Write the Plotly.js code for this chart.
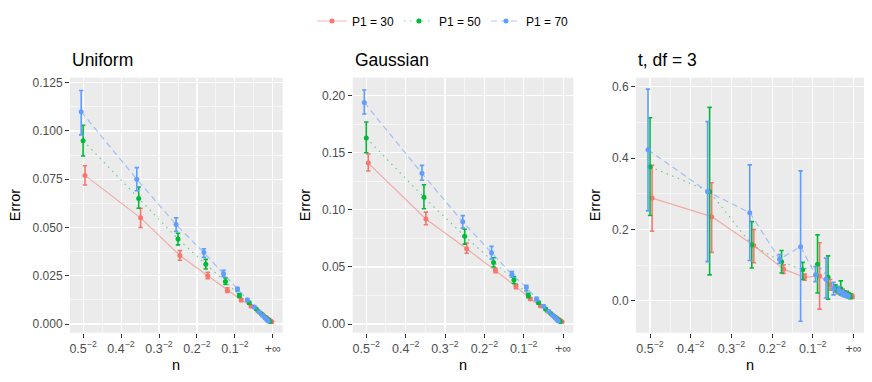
<!DOCTYPE html>
<html>
<head>
<meta charset="utf-8">
<script src="https://cdn.plot.ly/plotly-3.0.1.min.js"></script>
<style>html,body{margin:0;padding:0;background:#fff;}#chart{width:872px;height:382px;}</style>
</head>
<body>
<div id="chart"></div>
<script>
// ---- data ----
const nValues = [4, 8, 16, 32, 64, 128, 256, 512, 1024, 2048, 4096, 8192, 16384];
const seriesNames = ["P1 = 30", "P1 = 50", "P1 = 70"];
const panelTitles = ["Uniform", "Gaussian", "t, df = 3"];
const xTickVals = [0.5, 0.4, 0.3, 0.2, 0.1, 0];
const xTickText = ["0.5<sup>\u22122</sup>", "0.4<sup>\u22122</sup>", "0.3<sup>\u22122</sup>", "0.2<sup>\u22122</sup>", "0.1<sup>\u22122</sup>", "+\u221e"];

// Uniform
const uniP30 = [0.077, 0.055, 0.0355, 0.025, 0.0175, 0.0124, 0.0092, 0.0068, 0.0048, 0.0034, 0.0024, 0.0017, 0.0012];
const uniP30lo = [0.072, 0.050, 0.033, 0.0235, 0.0163, 0.0117, 0.0087, 0.0064, 0.0045, 0.0032, 0.0023, 0.0016, 0.0011];
const uniP30hi = [0.082, 0.060, 0.038, 0.0268, 0.0188, 0.0131, 0.0097, 0.0072, 0.0051, 0.0036, 0.0025, 0.0018, 0.0013];
const uniP50 = [0.095, 0.065, 0.044, 0.031, 0.022, 0.0148, 0.011, 0.0078, 0.0055, 0.0038, 0.0027, 0.0019, 0.0013];
const uniP50lo = [0.087, 0.060, 0.041, 0.0285, 0.0205, 0.0138, 0.0103, 0.0073, 0.0052, 0.0036, 0.0025, 0.0018, 0.0012];
const uniP50hi = [0.103, 0.071, 0.047, 0.0335, 0.0238, 0.0158, 0.0117, 0.0083, 0.0058, 0.0040, 0.0029, 0.0020, 0.0014];
const uniP70 = [0.110, 0.075, 0.0515, 0.037, 0.026, 0.018, 0.0125, 0.0088, 0.0062, 0.0044, 0.0031, 0.0022, 0.0015];
const uniP70lo = [0.098, 0.069, 0.048, 0.0345, 0.0245, 0.017, 0.0118, 0.0083, 0.0058, 0.0041, 0.0029, 0.0021, 0.0014];
const uniP70hi = [0.121, 0.081, 0.055, 0.039, 0.0278, 0.019, 0.0132, 0.0093, 0.0066, 0.0047, 0.0033, 0.0023, 0.0016];

// Gaussian
const gauP30 = [0.141, 0.092, 0.066, 0.047, 0.033, 0.022, 0.0158, 0.0112, 0.0079, 0.0056, 0.0040, 0.0028, 0.0020];
const gauP30lo = [0.134, 0.087, 0.062, 0.045, 0.031, 0.021, 0.0150, 0.0106, 0.0075, 0.0053, 0.0038, 0.0027, 0.0019];
const gauP30hi = [0.149, 0.098, 0.071, 0.049, 0.035, 0.023, 0.0166, 0.0118, 0.0083, 0.0059, 0.0042, 0.0029, 0.0021];
const gauP50 = [0.163, 0.111, 0.077, 0.054, 0.0385, 0.025, 0.0187, 0.0130, 0.0092, 0.0065, 0.0046, 0.0033, 0.0023];
const gauP50lo = [0.150, 0.101, 0.070, 0.050, 0.0355, 0.023, 0.0175, 0.0123, 0.0087, 0.0062, 0.0044, 0.0031, 0.0022];
const gauP50hi = [0.177, 0.122, 0.083, 0.058, 0.0415, 0.027, 0.0199, 0.0137, 0.0097, 0.0068, 0.0048, 0.0035, 0.0024];
const gauP70 = [0.194, 0.132, 0.0895, 0.0625, 0.0435, 0.032, 0.022, 0.0155, 0.0110, 0.0077, 0.0055, 0.0039, 0.0027];
const gauP70lo = [0.184, 0.126, 0.084, 0.057, 0.041, 0.029, 0.0205, 0.0145, 0.0103, 0.0073, 0.0052, 0.0037, 0.0026];
const gauP70hi = [0.205, 0.139, 0.095, 0.068, 0.046, 0.034, 0.0235, 0.0165, 0.0117, 0.0081, 0.0058, 0.0041, 0.0028];

// t, df = 3
const tP30 = [0.288, 0.236, 0.155, 0.089, 0.066, 0.070, 0.045, 0.030, 0.025, 0.020, 0.016, 0.014, 0.012];
const tP30lo = [0.195, 0.136, 0.107, 0.077, 0.058, -0.023, 0.030, 0.020, 0.017, 0.013, 0.010, 0.008, 0.007];
const tP30hi = [0.380, 0.331, 0.200, 0.101, 0.075, 0.163, 0.060, 0.040, 0.033, 0.027, 0.022, 0.020, 0.018];
const tP50 = [0.376, 0.306, 0.157, 0.110, 0.087, 0.103, 0.066, 0.035, 0.035, 0.020, 0.017, 0.014, 0.012];
const tP50lo = [0.239, 0.073, 0.092, 0.078, 0.060, 0.022, 0.005, 0.025, 0.017, 0.012, 0.010, 0.008, 0.006];
const tP50hi = [0.513, 0.542, 0.222, 0.141, 0.108, 0.185, 0.126, 0.045, 0.056, 0.028, 0.026, 0.022, 0.020];
const tP70 = [0.423, 0.306, 0.247, 0.117, 0.152, 0.073, 0.061, 0.035, 0.030, 0.022, 0.018, 0.015, 0.013];
const tP70lo = [0.252, 0.110, 0.113, 0.105, -0.057, 0.054, 0.008, 0.017, 0.020, 0.014, 0.012, 0.010, 0.009];
const tP70hi = [0.593, 0.502, 0.381, 0.130, 0.364, 0.096, 0.120, 0.052, 0.040, 0.030, 0.024, 0.020, 0.017];

const panels = [
  [[uniP30, uniP30lo, uniP30hi], [uniP50, uniP50lo, uniP50hi], [uniP70, uniP70lo, uniP70hi]],
  [[gauP30, gauP30lo, gauP30hi], [gauP50, gauP50lo, gauP50hi], [gauP70, gauP70lo, gauP70hi]],
  [[tP30, tP30lo, tP30hi], [tP50, tP50lo, tP50hi], [tP70, tP70lo, tP70hi]]
];

// ---- styling ----
const colors = ["#F8766D", "#00BA38", "#619CFF"];
const lineColors = ["rgba(248,118,109,0.55)", "rgba(0,186,56,0.55)", "rgba(97,156,255,0.55)"];
const dashes = ["solid", "1.5px,4.5px", "6px,4px"];
const dodge = [-0.005, 0, 0.005];
const FONT = "Liberation Sans, Arial, sans-serif";

const xDomains = [[70/872, 282.7/872], [352.7/872, 573.3/872], [636/872, 864/872]];
const yDomain = [1 - 332.7/382, 1 - 77.7/382];
const yRanges = [[-0.0045, 0.1276], [-0.0076, 0.2158], [-0.089, 0.625]];
const yDticks = [0.025, 0.05, 0.2];
const yFormats = [".3f", ".2f", ".1f"];

const xBase = nValues.map(n => 1 / Math.sqrt(n));

const traces = [];
panels.forEach((panel, p) => {
  const sfx = p === 0 ? "" : String(p + 1);
  panel.forEach((s, k) => {
    const [y, lo, hi] = s;
    traces.push({
      type: "scatter",
      mode: "lines+markers",
      x: xBase.map(v => v + dodge[k]),
      y: y,
      xaxis: "x" + sfx,
      yaxis: "y" + sfx,
      name: seriesNames[k],
      legendgroup: seriesNames[k],
      showlegend: p === 0,
      line: {color: lineColors[k], width: 1.2, dash: dashes[k]},
      marker: {color: colors[k], size: 5},
      error_y: {
        type: "data", symmetric: false,
        array: hi.map((h, i) => h - y[i]),
        arrayminus: lo.map((l, i) => y[i] - l),
        color: colors[k], thickness: 1.6, width: 2.2
      }
    });
  });
});

const layout = {
  width: 872, height: 382,
  margin: {l: 0, r: 0, t: 0, b: 0},
  paper_bgcolor: "#ffffff",
  plot_bgcolor: "#EBEBEB",
  font: {family: FONT, color: "#4D4D4D", size: 12},
  showlegend: true,
  legend: {
    orientation: "h", x: 0.508, xanchor: "center", y: 1 - 21/382, yanchor: "middle",
    font: {family: FONT, size: 12, color: "#000"}, itemwidth: 30, bgcolor: "rgba(0,0,0,0)"
  },
  annotations: []
};

for (let p = 0; p < 3; p++) {
  const sfx = p === 0 ? "" : String(p + 1);
  layout["xaxis" + sfx] = {
    domain: xDomains[p], anchor: "y" + sfx,
    range: [0.5345, -0.0258],
    tickmode: "array", tickvals: xTickVals, ticktext: xTickText,
    ticks: "outside", ticklen: 4, tickcolor: "#333333", tickwidth: 1,
    tickfont: {family: FONT, size: 12.5, color: "#4D4D4D"},
    showgrid: true, gridcolor: "#ffffff", gridwidth: 1.1,
    minor: {tickmode: "array", tickvals: [0.45, 0.35, 0.25, 0.15, 0.05], showgrid: true, gridcolor: "#ffffff", gridwidth: 0.55, ticks: ""},
    zeroline: false, showline: false, fixedrange: true
  };
  layout["yaxis" + sfx] = {
    domain: yDomain, anchor: "x" + sfx,
    range: yRanges[p],
    tickmode: "linear", tick0: 0, dtick: yDticks[p], tickformat: yFormats[p],
    ticks: "outside", ticklen: 4, tickcolor: "#333333", tickwidth: 1,
    tickfont: {family: FONT, size: 12, color: "#4D4D4D"},
    showgrid: true, gridcolor: "#ffffff", gridwidth: 1.1,
    minor: {tick0: yDticks[p] / 2, dtick: yDticks[p], showgrid: true, gridcolor: "#ffffff", gridwidth: 0.55, ticks: ""},
    zeroline: false, showline: false, fixedrange: true
  };
  const cx = (xDomains[p][0] + xDomains[p][1]) / 2;
  layout.annotations.push({
    text: panelTitles[p], xref: "paper", yref: "paper",
    x: xDomains[p][0], y: 1 - 60/382, xanchor: "left", yanchor: "middle",
    showarrow: false, font: {family: FONT, size: 17.5, color: "#000"}
  });
  layout.annotations.push({
    text: "n", xref: "paper", yref: "paper",
    x: cx, y: 1 - 365/382, xanchor: "center", yanchor: "middle",
    showarrow: false, font: {family: FONT, size: 14.5, color: "#000"}
  });
  layout.annotations.push({
    text: "Error", xref: "paper", yref: "paper",
    x: [15, 305, 595][p] / 872, y: (yDomain[0] + yDomain[1]) / 2, xanchor: "center", yanchor: "middle",
    textangle: -90, showarrow: false, font: {family: FONT, size: 14.5, color: "#000"}
  });
}

Plotly.newPlot("chart", traces, layout, {displayModeBar: false, staticPlot: true});
</script>
</body>
</html>
